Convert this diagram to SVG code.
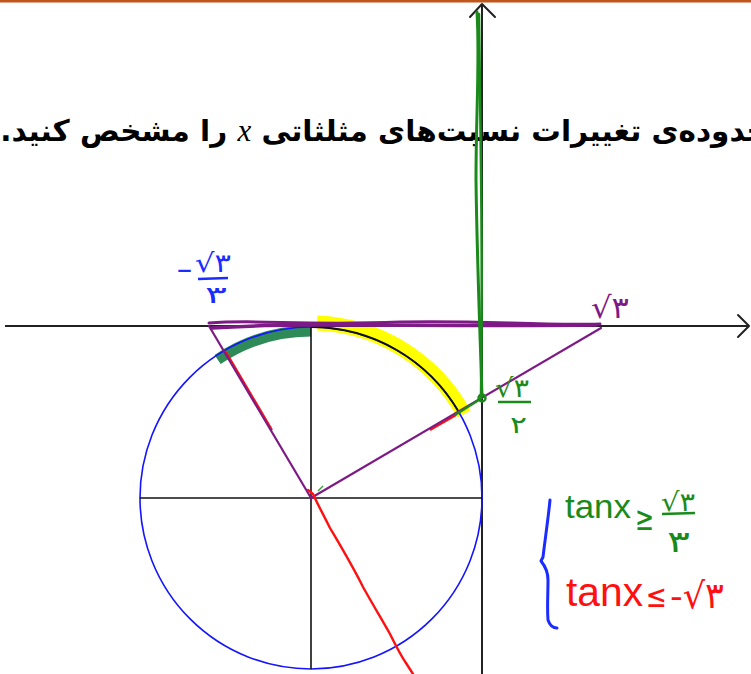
<svg xmlns="http://www.w3.org/2000/svg" width="751" height="674" viewBox="0 0 751 674">
<style>
.axis{stroke:#222;stroke-width:2;fill:none}
.arrow{stroke:#222;stroke-width:2;fill:none;stroke-linecap:round;stroke-linejoin:round}
.thin{stroke:#111;stroke-width:1.6;fill:none}
.purple{stroke:#7e1a86;stroke-width:2.2;fill:none;stroke-linecap:round}
.hand{font-family:"DejaVu Sans",sans-serif}
.lat{font-family:"Liberation Sans",sans-serif}
</style>
<rect width="751" height="674" fill="#ffffff"/>
<rect x="0" y="0" width="751" height="2.5" fill="#c0561b"/>

<g id="title">
<text x="786" y="141" direction="rtl" text-anchor="start" font-family="DejaVu Sans, sans-serif" font-weight="bold" font-size="29.5" fill="#000">محدوده‌ی تغییرات نسبت‌های مثلثاتی <tspan font-family="Liberation Serif, serif" font-style="italic" font-weight="normal" font-size="31">x</tspan> را مشخص کنید.</text>
</g>

<g id="highlights">
<path d="M 317.1,323.1 A 175 175 0 0 1 464,414" stroke="#ffff00" stroke-width="15" fill="none"/>
<path d="M 217.6,359.5 A 167 167 0 0 1 311,331" stroke="#2e8b57" stroke-width="11" fill="none"/>
</g>

<g id="axes">
<line class="axis" x1="5" y1="326" x2="748" y2="326"/>
<polyline class="arrow" points="738,315 749,326 738,337"/>
<line class="axis" x1="482" y1="5" x2="482" y2="674"/>
<polyline class="arrow" points="470,17 482,4 495,17"/>
</g>

<g id="circle">
<circle cx="311" cy="498" r="171" fill="none" stroke="#1414ff" stroke-width="1.6"/>
<path d="M 311,327 A 171 171 0 0 1 459.1,412.5" stroke="#111" stroke-width="1.8" fill="none"/>
<line class="thin" x1="140" y1="498" x2="482" y2="498"/>
<line class="thin" x1="311" y1="327" x2="311" y2="669"/>
</g>

<g id="connectors">
<path d="M 212,328 C 300,322 420,327 596,325" stroke="#7e1a86" stroke-width="3.5" fill="none" stroke-linecap="round"/>
<path d="M 209,323 C 260,319 300,326 400,322 C 480,320 540,326 600,324" stroke="#7e1a86" stroke-width="3" fill="none" stroke-linecap="round"/>
<line x1="226" y1="352" x2="272" y2="430" stroke="#ff1010" stroke-width="2.2"/>
<line x1="430" y1="430" x2="456" y2="415" stroke="#ff1010" stroke-width="2.2"/>
<line class="purple" x1="209" y1="326" x2="311" y2="498"/>
<line class="purple" x1="311" y1="498" x2="601" y2="328"/>
<path d="M 308,490 L 313,494 C 318,505 322,512 330,528 C 340,545 352,565 363,587 C 372,603 382,620 390,634 C 396,646 401,656 406,663 L 413,674" stroke="#ff1010" stroke-width="2.4" fill="none" stroke-linecap="round"/>
<path d="M 318,491 L 323,486" stroke="#3aa03a" stroke-width="1.5" fill="none"/>
<line x1="455" y1="415" x2="482" y2="398" stroke="#1a8a1a" stroke-width="2.5"/>
<circle cx="482" cy="398" r="3.5" fill="none" stroke="#1a8a1a" stroke-width="2.5"/>
<path d="M 482,396 C 480,330 477,260 476,180 C 476,110 480,60 477,12" stroke="#1a8a1a" stroke-width="3" fill="none" stroke-linecap="round"/>
<path d="M 481,396 C 482,320 482,250 481,170 C 480,100 479,50 479,14" stroke="#1a8a1a" stroke-width="2.5" fill="none" stroke-linecap="round"/>
</g>

<g id="label-neg" fill="#1a2cff" class="hand">
<text x="176" y="279" font-size="28" textLength="17" lengthAdjust="spacingAndGlyphs">-</text>
<text x="195" y="272" font-size="26" textLength="36" lengthAdjust="spacingAndGlyphs">√۳</text>
<line x1="198" y1="279" x2="228" y2="278" stroke="#1a2cff" stroke-width="2.5"/>
<text x="205" y="303" font-size="24" textLength="22" lengthAdjust="spacingAndGlyphs">۳</text>
</g>

<g id="label-root3" fill="#7e1a86" class="hand">
<text x="591" y="318" font-size="30" textLength="38" lengthAdjust="spacingAndGlyphs">√۳</text>
</g>

<g id="label-root3-2" fill="#1a8a1a" class="hand">
<text x="495" y="397" font-size="26" textLength="34" lengthAdjust="spacingAndGlyphs">√۳</text>
<line x1="498" y1="402" x2="531" y2="402" stroke="#1a8a1a" stroke-width="2.5"/>
<text x="510" y="433" font-size="24" textLength="17" lengthAdjust="spacingAndGlyphs">۲</text>
</g>

<g id="brace">
<path d="M 550,500 C 548,520 545,540 543,557 L 541,561 C 545,566 548,572 548,580 C 548,595 547,608 548,620 C 550,626 553,628 557,628" stroke="#1a2cff" stroke-width="3" fill="none" stroke-linecap="round" stroke-linejoin="round"/>
</g>

<g id="ineq-green" fill="#1a8a1a">
<text class="lat" x="565" y="518" font-size="34" textLength="66" lengthAdjust="spacingAndGlyphs">tanx</text>
<text class="hand" x="635" y="530" font-size="34" textLength="19" lengthAdjust="spacingAndGlyphs">≥</text>
<text class="hand" x="661" y="511" font-size="26" textLength="34" lengthAdjust="spacingAndGlyphs">√۳</text>
<line x1="662" y1="514" x2="695" y2="513" stroke="#1a8a1a" stroke-width="2.5"/>
<text class="hand" x="667" y="552" font-size="30" textLength="23" lengthAdjust="spacingAndGlyphs">۳</text>
</g>

<g id="ineq-red" fill="#ff1010">
<text class="lat" x="566" y="606" font-size="40" textLength="77" lengthAdjust="spacingAndGlyphs">tanx</text>
<text class="hand" x="646" y="607" font-size="32" textLength="21" lengthAdjust="spacingAndGlyphs">≤</text>
<text class="hand" x="670" y="608" font-size="36" textLength="54" lengthAdjust="spacingAndGlyphs">-√۳</text>
</g>
</svg>
